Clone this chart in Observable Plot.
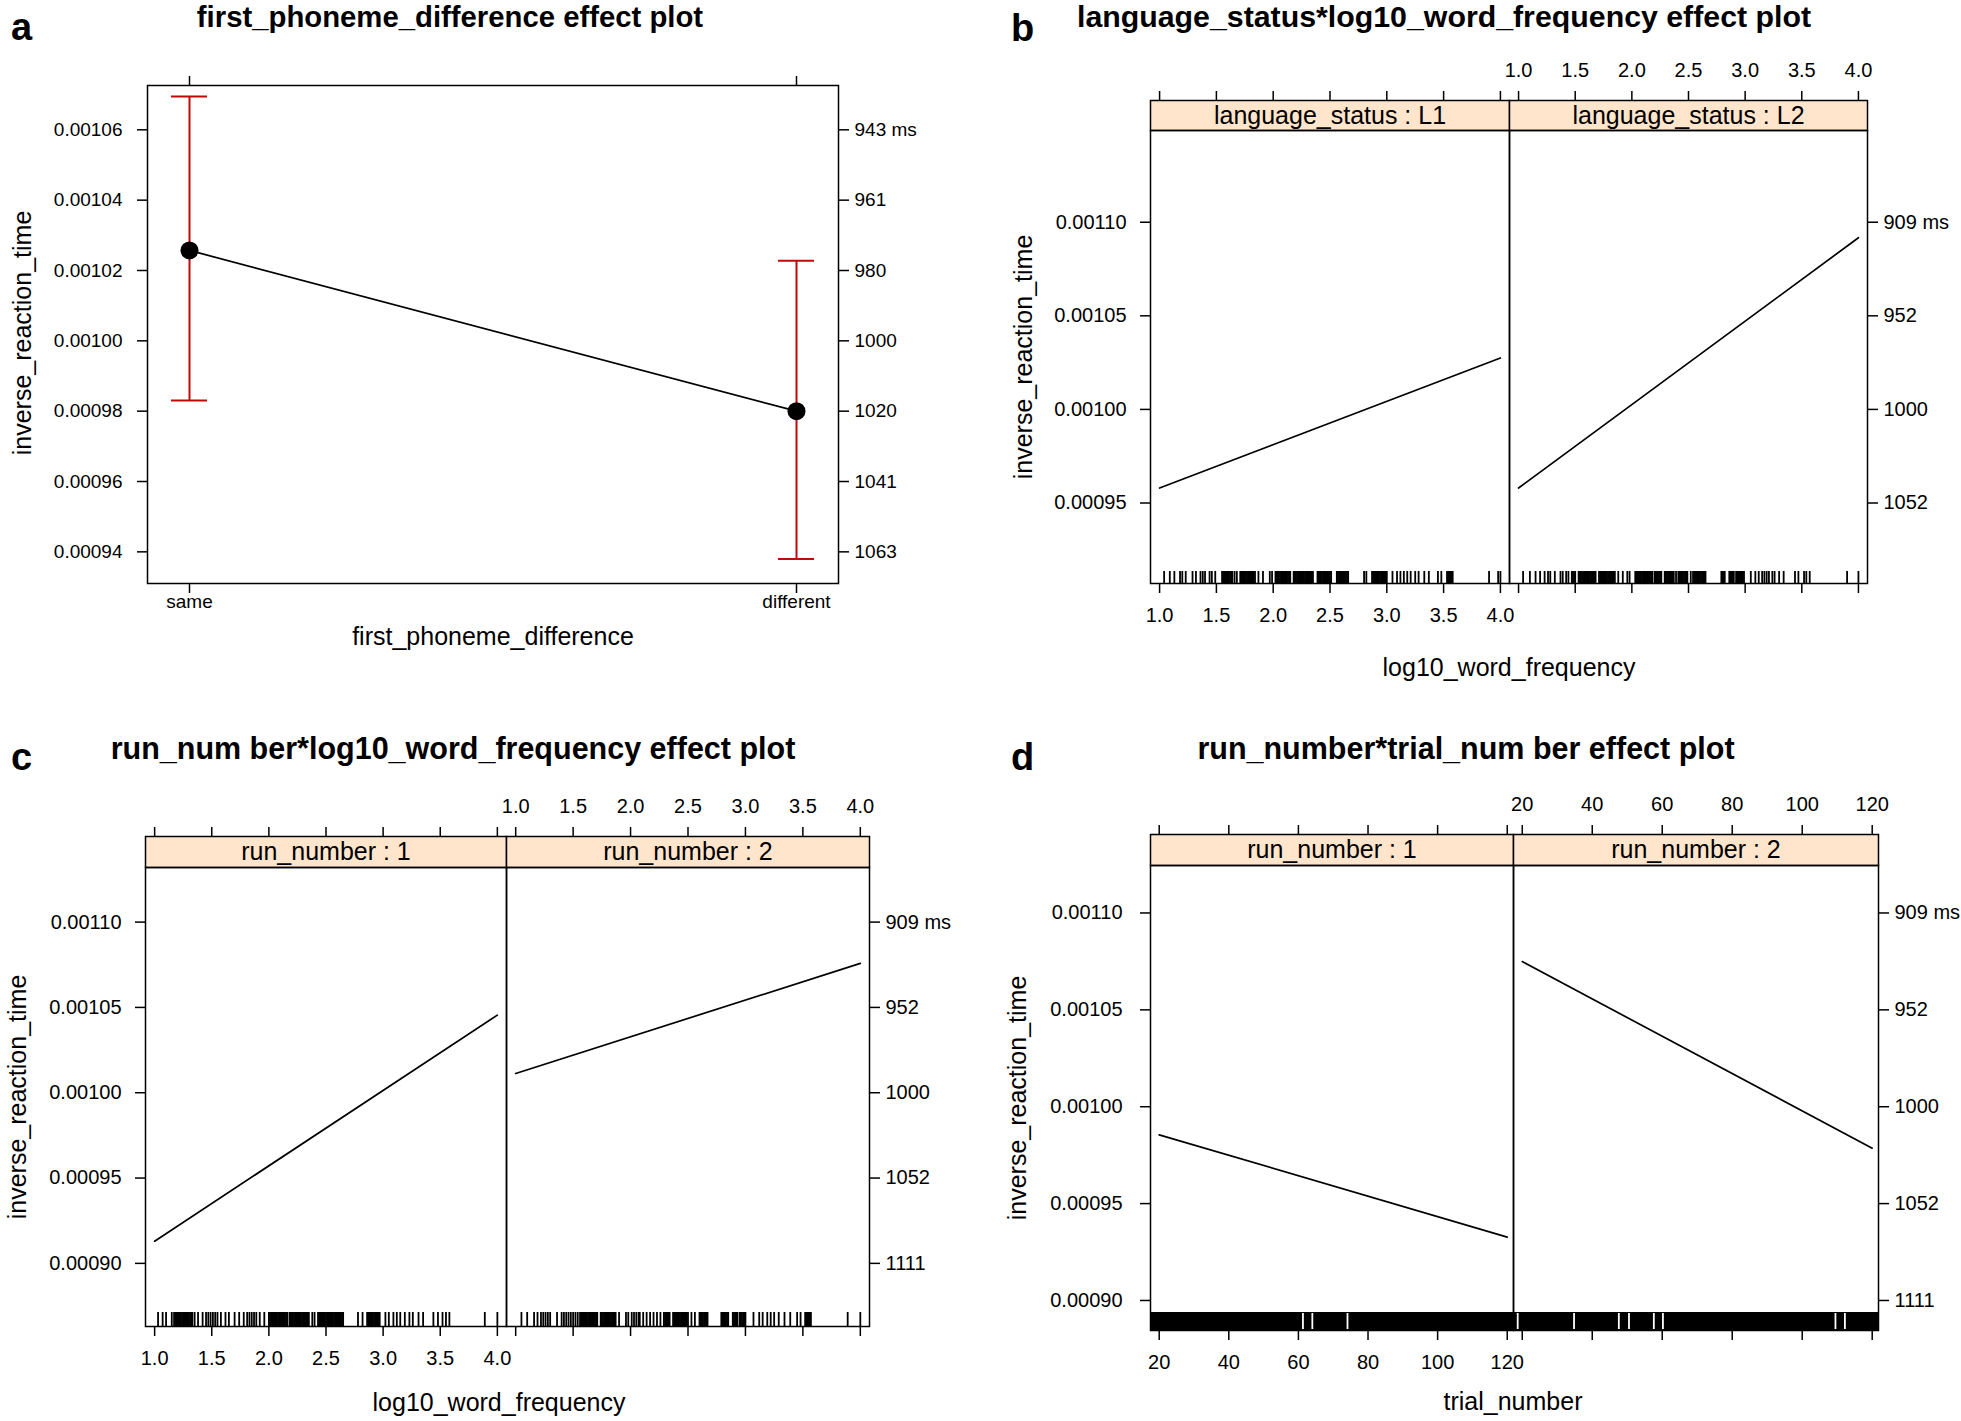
<!DOCTYPE html>
<html><head><meta charset="utf-8">
<script src="https://cdn.jsdelivr.net/npm/d3@7"></script>
<script src="https://cdn.jsdelivr.net/npm/@observablehq/plot@0.6"></script>
<style>
html,body{margin:0;padding:0;background:#fff;}
#fig{position:relative;width:1961px;height:1421px;background:#fff;overflow:hidden;font-family:"Liberation Sans",Arial,sans-serif;}
#fig svg{overflow:visible;max-width:none !important;}
#fig .p{position:absolute;}
#fig [aria-label*="axis"] path, #fig [aria-label*="axis"] line{stroke-width:1.5px;}
</style></head>
<body><div id="fig"></div>
<script>
// ================= DATA =================
// (a) first_phoneme_difference effect
const phonemeLevels = ["same", "different"];
const phonemeFit   = [0.0010257, 0.00098];
const phonemeLower = [0.000983, 0.000938];
const phonemeUpper = [0.0010695, 0.0010228];
const yTicksA  = [0.00094, 0.00096, 0.00098, 0.00100, 0.00102, 0.00104, 0.00106];
const msLabelsA = ["1063", "1041", "1020", "1000", "980", "961", "943 ms"];

// (b) language_status * log10_word_frequency
const freqTicks = [1.0, 1.5, 2.0, 2.5, 3.0, 3.5, 4.0];
const freqEnds = [1.0, 4.0];
const langLevels = ["language_status : L1", "language_status : L2"];
const fitLangL1 = [0.000958, 0.0010275];
const fitLangL2 = [0.000958, 0.0010917];
const yTicksB = [0.00095, 0.00100, 0.00105, 0.00110];
const msLabelsB = ["1052", "1000", "952", "909 ms"];
const rugFreqL1 = [1.04,1.09,1.13,1.18,1.2,1.23,1.29,1.32,1.36,1.38,1.4,1.44,1.46,1.49,
 1.55,1.56,1.57,1.58,1.59,1.6,1.61,1.62,1.63,1.64,1.66,1.68,
 1.71,1.72,1.73,1.74,1.75,1.76,1.77,1.78,1.79,1.8,1.81,1.82,1.83,1.84,
 1.87,1.91,1.97,1.99,
 2.02,2.03,2.04,2.05,2.06,2.07,2.08,2.09,2.1,2.11,2.12,2.13,2.14,2.15,
 2.18,2.19,2.2,2.21,2.22,2.23,2.24,2.25,2.26,2.27,2.28,2.29,2.3,2.31,2.32,2.33,2.34,2.35,
 2.39,2.4,2.41,2.42,2.43,2.44,2.45,2.46,2.47,2.48,2.49,2.5,2.51,
 2.56,2.57,2.58,2.59,2.6,2.61,2.62,2.63,2.64,2.65,2.66,
 2.8,2.82,
 2.87,2.88,2.89,2.9,2.91,2.92,2.93,2.94,2.95,2.96,2.97,2.98,2.99,3.0,
 3.05,3.09,3.12,3.15,3.18,3.21,3.25,3.28,3.33,3.37,3.45,3.48,
 3.53,3.54,3.55,3.56,3.57,3.58,
 3.9,3.98,4.0];
const rugFreqL2 = [1.04,1.1,1.15,1.19,1.23,1.26,1.28,1.32,1.37,1.39,1.42,1.44,1.47,1.48,1.49,1.5,
 1.53,1.54,1.55,1.56,1.57,1.58,1.59,1.6,1.61,1.62,1.63,1.64,1.65,1.66,1.67,1.68,
 1.71,1.72,1.73,1.74,1.75,1.76,1.77,1.78,1.79,1.8,1.81,1.82,1.83,1.84,1.85,
 1.88,1.92,1.96,1.98,
 2.03,2.04,2.05,2.06,2.07,2.08,2.09,2.1,2.11,2.12,2.13,2.14,2.15,2.16,2.17,2.18,
 2.2,2.21,2.22,2.23,2.24,2.25,2.26,
 2.29,2.3,2.31,2.32,2.33,2.34,2.35,2.36,2.37,
 2.39,
 2.41,2.42,2.43,2.44,2.45,2.46,2.47,2.48,2.49,
 2.52,
 2.54,2.55,2.56,2.57,2.58,2.59,2.6,2.61,2.62,2.63,2.64,2.65,
 2.79,2.8,2.81,2.82,
 2.86,2.87,2.88,2.89,2.9,
 2.92,2.93,2.94,2.95,2.96,2.97,2.98,2.99,
 3.05,3.09,3.12,3.15,3.17,3.19,3.21,3.24,3.26,3.3,3.34,3.44,3.47,3.52,3.54,3.57,3.9,4.0];

// (c) run_number * log10_word_frequency
const runLevels = ["run_number : 1", "run_number : 2"];
const fitRunFreq1 = [0.000913, 0.0010455];
const fitRunFreq2 = [0.0010113, 0.0010758];
const yTicksCD = [0.00090, 0.00095, 0.00100, 0.00105, 0.00110];
const msLabelsCD = ["1111", "1052", "1000", "952", "909 ms"];
const rugFreqRun1 = [1.03,1.07,1.1,1.15,
 1.17,1.18,1.19,1.2,1.21,1.22,1.23,1.24,1.25,1.26,1.27,1.28,1.29,1.3,1.31,1.32,1.33,
 1.35,1.38,1.42,1.45,1.47,1.49,1.51,1.53,1.55,
 1.58,1.62,1.65,1.7,1.74,1.78,1.81,1.83,1.85,1.87,1.89,1.92,1.96,
 2.0,2.01,2.02,2.03,2.04,2.05,2.06,2.07,2.08,2.09,2.1,2.11,2.12,2.13,2.14,2.15,2.16,
 2.18,2.19,2.2,2.21,2.22,2.23,2.24,2.25,2.26,2.27,2.28,2.29,2.3,2.31,2.32,2.33,2.34,2.35,
 2.38,2.4,
 2.43,2.44,2.45,2.46,2.47,2.48,2.49,2.5,2.51,2.52,2.53,2.54,2.55,2.56,2.57,2.58,2.59,2.6,2.61,2.62,2.63,2.64,2.65,
 2.78,2.82,
 2.86,2.87,2.88,2.89,2.9,2.91,2.92,2.93,2.94,2.95,2.96,2.97,
 3.02,3.05,3.09,3.12,3.15,3.19,3.23,3.26,3.31,3.35,3.44,3.48,3.52,3.55,3.58,3.89,4.0];
const rugFreqRun2 = [1.05,1.1,1.16,1.19,1.22,1.24,1.26,1.28,1.3,1.36,1.4,
 1.42,1.44,1.46,1.48,1.5,1.52,1.54,
 1.56,1.57,1.58,1.59,1.6,1.61,1.62,1.63,1.64,1.65,1.66,1.67,1.68,1.69,1.7,1.71,
 1.74,1.75,1.76,1.77,1.78,1.79,1.8,1.81,1.82,1.83,1.84,1.85,1.86,1.87,
 1.9,1.96,1.98,
 2.01,2.03,2.05,2.07,2.08,2.11,2.14,2.17,2.2,2.23,2.26,
 2.29,2.3,2.31,2.32,2.33,2.34,
 2.37,2.38,2.39,2.4,2.41,2.42,2.43,2.44,2.45,2.46,2.47,2.48,2.49,2.5,
 2.53,2.56,
 2.6,2.61,2.62,2.63,2.64,2.65,2.66,2.67,
 2.79,2.8,2.81,2.82,2.83,2.84,2.85,
 2.89,2.9,2.91,2.92,2.93,
 2.95,2.96,2.97,2.98,2.99,3.0,
 3.07,3.12,3.15,3.19,3.22,3.25,3.29,3.34,3.39,3.45,3.48,
 3.52,3.53,3.54,3.55,3.56,3.57,
 3.89,4.0];

// (d) run_number * trial_number
const trialTicks = [20, 40, 60, 80, 100, 120];
const trialEnds = [20, 120];
const fitRunTrial1 = [0.0009855, 0.0009327];
const fitRunTrial2 = [0.0010749, 0.0009786];
const trialRugSpan = [1, 130];
const trialRugGaps1 = [61.3, 64, 74.1];
const trialRugGaps2 = [18.7, 34.8, 47.6, 50.5, 57.6, 60.2, 109.5, 112.2];

// ================= DRAWING =================
const FONT = '"Liberation Sans", Arial, Helvetica, sans-serif';
const fig = document.getElementById("fig");
const baseStyle = {fontFamily: FONT, fontSize: "20px", background: "transparent", color: "black", overflow: "visible"};
const fmtFreq = d3.format(".1f"), fmtTrial = d3.format("d"), fmtInv = d3.format(".5f");
const blank = () => "";

function place(svg, left, top, w) {
  const d = document.createElement("div");
  d.className = "p";
  d.style.left = left + "px";
  d.style.top = top + "px";
  d.style.width = w + "px";
  d.appendChild(svg);
  fig.appendChild(d);
}

function safe(fn) { try { fn(); } catch (e) { console.error(e); } }

function panelPlot(o) {
  const W = o.x1 - o.x0, H = o.y1 - o.y0;
  const mL = o.side === "left" ? 120 : 0, mR = o.side === "right" ? 110 : 0, mB = 50;
  const msMap = new Map(o.yTicks.map((t, i) => [t, o.msLabels[i]]));
  const marks = [];
  if (o.rug) marks.push(Plot.tickX(o.rug, {x: d => d, insetTop: H - o.rugLen, stroke: "black", strokeWidth: 1.8}));
  if (o.rugSpan) {
    marks.push(Plot.rect([o.rugSpan], {x1: d => d[0], x2: d => d[1], insetTop: H - o.rugLen, fill: "black", clip: true}));
    marks.push(Plot.tickX(o.rugGaps, {x: d => d, insetTop: H - o.rugLen + 1, insetBottom: 1, stroke: "white", strokeWidth: 1.8}));
  }
  marks.push(Plot.line(o.xEnds.map((x, i) => ({x, y: o.fit[i]})), {x: "x", y: "y", stroke: "black", strokeWidth: 1.7}));
  marks.push(Plot.frame({stroke: "black", strokeWidth: 1.5}));
  const svg = Plot.plot({
    width: W + mL + mR, height: H + mB,
    marginLeft: mL, marginRight: mR, marginTop: 0, marginBottom: mB,
    style: baseStyle,
    x: {domain: o.xDomain, ticks: o.xTicks, tickSize: 10, tickPadding: 14, tickFormat: o.showX ? o.xFmt : blank, label: null},
    y: {domain: o.yDomain, ticks: o.yTicks, tickSize: 10, tickPadding: o.side === "left" ? o.leftPad : 6,
        tickFormat: o.side === "left" ? fmtInv : (d => msMap.get(d)), label: null, axis: o.side},
    marks
  });
  place(svg, o.x0 - mL, o.y0, W + mL + mR);
}

function stripPlot(o) {
  const W = o.x1 - o.x0, H = o.y1 - o.y0, mT = 55;
  const svg = Plot.plot({
    width: W, height: H + mT, marginTop: mT, marginLeft: 0, marginRight: 0, marginBottom: 0,
    style: baseStyle,
    x: {domain: o.xDomain, ticks: o.xTicks, axis: "top", tickSize: 10, tickPadding: 14, tickFormat: o.showX ? o.xFmt : blank, label: null},
    marks: [
      Plot.ruleX(o.xTicks, {x: d => d, strokeOpacity: 0}),
      Plot.frame({fill: "#ffe5cc", stroke: "black", strokeWidth: 1.5}),
      Plot.text([o.label], {text: d => d, frameAnchor: "middle", fontSize: 25})
    ]
  });
  place(svg, o.x0, o.y0 - mT, W);
}

// ---- panel a ----
safe(function () {
  const x0 = 147, x1 = 838, y0 = 85, y1 = 583;
  const mL = 120, mR = 110, mT = 20, mB = 50;
  const rows = phonemeLevels.map((level, i) => ({level, fit: phonemeFit[i], lower: phonemeLower[i], upper: phonemeUpper[i]}));
  const yDom = [0.000931, 0.0010726];
  const red = "#c00a0a";
  const W = x1 - x0 + mL + mR;
  const common = {width: W, height: y1 - y0 + mT + mB, marginLeft: mL, marginRight: mR, marginTop: mT, marginBottom: mB, style: {...baseStyle, fontSize: "19px"}};
  const main = Plot.plot({
    ...common,
    x: {type: "point", domain: phonemeLevels, padding: 0.0684, tickSize: 10, tickPadding: 1, label: null},
    y: {domain: yDom, ticks: yTicksA, tickSize: 10, tickPadding: 15, tickFormat: fmtInv, label: null},
    marks: [
      Plot.ruleX(rows, {x: "level", y1: "lower", y2: "upper", stroke: red, strokeWidth: 2}),
      Plot.ruleY(rows, {x1: "level", x2: "level", y: "upper", stroke: red, strokeWidth: 2, insetLeft: -18, insetRight: -18}),
      Plot.ruleY(rows, {x1: "level", x2: "level", y: "lower", stroke: red, strokeWidth: 2, insetLeft: -18, insetRight: -18}),
      Plot.line(rows, {x: "level", y: "fit", stroke: "black", strokeWidth: 1.7}),
      Plot.dot(rows, {x: "level", y: "fit", r: 9, fill: "black"}),
      Plot.frame({stroke: "black", strokeWidth: 1.5})
    ]
  });
  place(main, x0 - mL, y0 - mT, W);
  const msMap = new Map(yTicksA.map((t, i) => [t, msLabelsA[i]]));
  const over = Plot.plot({
    ...common,
    x: {type: "point", domain: phonemeLevels, padding: 0.0684, axis: "top", tickSize: 10, tickFormat: blank, label: null},
    y: {domain: yDom, ticks: yTicksA, axis: "right", tickSize: 10, tickPadding: 6, tickFormat: d => msMap.get(d), label: null},
    marks: [
      Plot.ruleY(yTicksA, {y: d => d, strokeOpacity: 0}),
      Plot.ruleX(phonemeLevels, {x: d => d, strokeOpacity: 0})
    ]
  });
  place(over, x0 - mL, y0 - mT, W);
});

// ---- panel b ----
safe(function () {
  const xs = [1150, 1509, 1867], sTop = 100, pTop = 130, pBot = 583;
  const xDomain = [0.92, 4.08], yDomain = [0.000907, 0.001149];
  const fits = [fitLangL1, fitLangL2], rugs = [rugFreqL1, rugFreqL2];
  [0, 1].forEach(i => {
    stripPlot({x0: xs[i], x1: xs[i + 1], y0: sTop, y1: pTop, xDomain, xTicks: freqTicks, xFmt: fmtFreq, showX: i === 1, label: langLevels[i]});
    panelPlot({x0: xs[i], x1: xs[i + 1], y0: pTop, y1: pBot, xDomain, xTicks: freqTicks, xFmt: fmtFreq, showX: i === 0,
      yDomain, yTicks: yTicksB, msLabels: msLabelsB, side: i === 0 ? "left" : "right", leftPad: 14,
      xEnds: freqEnds, fit: fits[i], rug: rugs[i], rugLen: 12});
  });
});

// ---- panel c ----
safe(function () {
  const xs = [145, 506, 869], sTop = 836, pTop = 867, pBot = 1326;
  const xDomain = [0.92, 4.08], yDomain = [0.000863, 0.001132];
  const fits = [fitRunFreq1, fitRunFreq2], rugs = [rugFreqRun1, rugFreqRun2];
  [0, 1].forEach(i => {
    stripPlot({x0: xs[i], x1: xs[i + 1], y0: sTop, y1: pTop, xDomain, xTicks: freqTicks, xFmt: fmtFreq, showX: i === 1, label: runLevels[i]});
    panelPlot({x0: xs[i], x1: xs[i + 1], y0: pTop, y1: pBot, xDomain, xTicks: freqTicks, xFmt: fmtFreq, showX: i === 0,
      yDomain, yTicks: yTicksCD, msLabels: msLabelsCD, side: i === 0 ? "left" : "right", leftPad: 14,
      xEnds: freqEnds, fit: fits[i], rug: rugs[i], rugLen: 14});
  });
});

// ---- panel d ----
safe(function () {
  const xs = [1150, 1513, 1878], sTop = 834, pTop = 865, pBot = 1330;
  const xDomain = [17.5, 121.8], yDomain = [0.0008845, 0.0011245];
  const fits = [fitRunTrial1, fitRunTrial2], gaps = [trialRugGaps1, trialRugGaps2];
  [0, 1].forEach(i => {
    stripPlot({x0: xs[i], x1: xs[i + 1], y0: sTop, y1: pTop, xDomain, xTicks: trialTicks, xFmt: fmtTrial, showX: i === 1, label: runLevels[i]});
    panelPlot({x0: xs[i], x1: xs[i + 1], y0: pTop, y1: pBot, xDomain, xTicks: trialTicks, xFmt: fmtTrial, showX: i === 0,
      yDomain, yTicks: yTicksCD, msLabels: msLabelsCD, side: i === 0 ? "left" : "right", leftPad: 18,
      xEnds: trialEnds, fit: fits[i], rugSpan: trialRugSpan, rugGaps: gaps[i], rugLen: 18});
  });
});

// ---- annotations (panel letters, titles, axis titles) ----
const ann = d3.select(fig).append("svg")
  .attr("width", 1961).attr("height", 1421)
  .style("position", "absolute").style("left", "0px").style("top", "0px")
  .style("font-family", FONT);
const letters = [["a", 11, 40], ["b", 1011, 41], ["c", 11, 770], ["d", 1011, 770]];
letters.forEach(([t, x, y]) => ann.append("text").attr("x", x).attr("y", y).attr("font-size", 38).attr("font-weight", "bold").text(t));
const titles = [
  ["first_phoneme_difference effect plot", 450, 27, 29.3],
  ["language_status*log10_word_frequency effect plot", 1444, 27, 30.3],
  ["run_num ber*log10_word_frequency effect plot", 453, 759, 30.5],
  ["run_number*trial_num ber effect plot", 1466, 759, 30.5]
];
titles.forEach(([t, x, y, fs]) => ann.append("text").attr("x", x).attr("y", y).attr("text-anchor", "middle")
  .attr("font-size", fs).attr("font-weight", "bold").text(t));
const xTitles = [
  ["first_phoneme_difference", 493, 645],
  ["log10_word_frequency", 1509, 676],
  ["log10_word_frequency", 499, 1411],
  ["trial_number", 1513, 1410]
];
xTitles.forEach(([t, x, y]) => ann.append("text").attr("x", x).attr("y", y).attr("text-anchor", "middle").attr("font-size", 25).text(t));
const yTitles = [[31, 333], [1032, 357], [26, 1097], [1026, 1098]];
yTitles.forEach(([x, y]) => ann.append("text").attr("transform", `translate(${x},${y}) rotate(-90)`)
  .attr("text-anchor", "middle").attr("font-size", 25).text("inverse_reaction_time"));
</script></body></html>
